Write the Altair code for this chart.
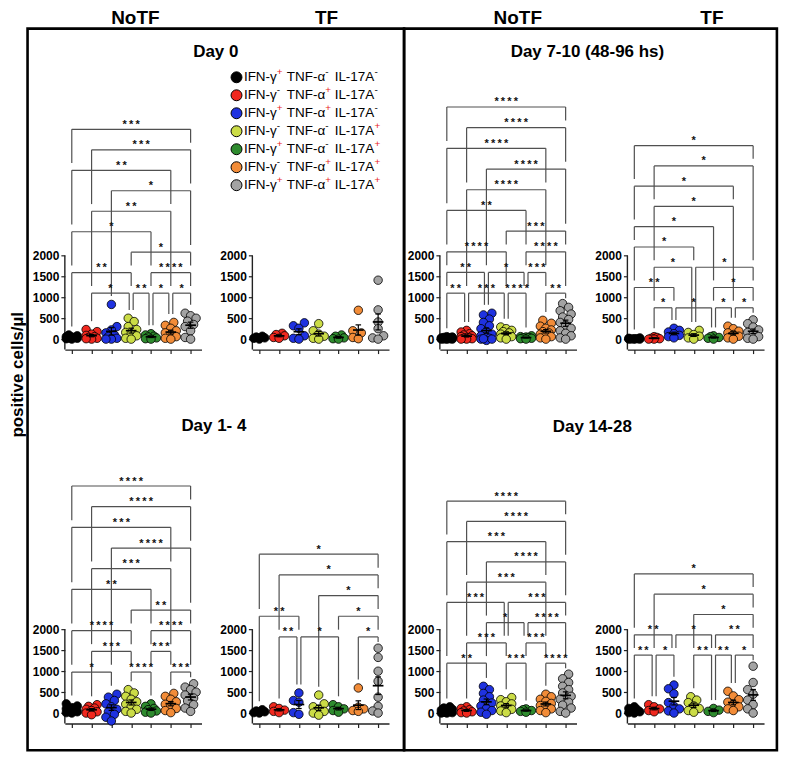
import altair as alt
import pandas as pd

FONT = "Liberation Sans"

CATS = ["IFN-γ+ TNF-α- IL-17A-", "IFN-γ- TNF-α+ IL-17A-", "IFN-γ+ TNF-α+ IL-17A-",
        "IFN-γ- TNF-α- IL-17A+", "IFN-γ+ TNF-α- IL-17A+", "IFN-γ- TNF-α+ IL-17A+",
        "IFN-γ+ TNF-α+ IL-17A+"]
SIGN_IFN = ["+", "-", "+", "-", "+", "-", "+"]
SIGN_TNF = ["-", "+", "+", "-", "-", "+", "+"]
SIGN_IL = ["-", "-", "-", "+", "+", "+", "+"]
COLORS = ["#000000", "#f0281e", "#1f32e0", "#cbdc46", "#2e8b2e", "#f28c38", "#a3a3a3"]

# ---- values (positive cells/µl), one list per population ----
day0_notf = [
    [100, 80, 60, 50, 40, 30, 20, 10, 0],
    [230, 180, 120, 90, 60, 40, 20, 0, 10],
    [830, 300, 220, 150, 100, 60, 20, 0, 0],
    [500, 420, 300, 230, 160, 120, 80, 20, 0],
    [130, 100, 70, 50, 30, 10, 0],
    [400, 330, 260, 200, 150, 100, 60, 20, 0],
    [620, 560, 500, 430, 350, 300, 200, 40, 0],
]
day0_tf = [
    [70, 50, 30, 20, 0],
    [140, 110, 80, 40, 20],
    [390, 320, 260, 80, 20, 0],
    [370, 200, 120, 70, 20, 0],
    [100, 70, 30, 10, 0],
    [690, 200, 150, 40, 10],
    [1410, 700, 410, 250, 80, 30, 0],
]
day7_notf = [
    [60, 50, 40, 30, 30, 20, 20, 10, 10, 0, 0, 0, 5, 15, 25],
    [210, 170, 130, 100, 80, 60, 40, 30, 20, 10, 0, 0],
    [620, 580, 480, 400, 320, 250, 180, 120, 80, 40, 20, 0, -30, 0, 10],
    [290, 250, 210, 180, 150, 120, 90, 60, 30, 0],
    [80, 60, 50, 40, 30, 20, 10, 0],
    [450, 380, 310, 260, 220, 180, 150, 120, 90, 60, 30, 0],
    [850, 760, 680, 600, 530, 470, 400, 330, 260, 200, 140, 80, 30, 0],
]
day7_tf = [
    [30, 20, 10, 5, 0, 0, 0, 10],
    [60, 40, 20, 10, 0, 0],
    [260, 210, 170, 130, 90, 60, 30],
    [210, 160, 110, 70, 30, 0],
    [80, 60, 40, 20, 0],
    [310, 250, 190, 150, 110, 70, 30, 0],
    [460, 370, 290, 220, 160, 110, 60, 20, 0],
]
day1_notf = [
    [220, 170, 130, 100, 70, 50, 30, 10, 0],
    [200, 160, 120, 90, 60, 30, 0, -40],
    [450, 380, 300, 220, 150, 90, 30, -30, -100, -190],
    [560, 480, 400, 330, 270, 210, 150, 90, 40, 0],
    [220, 160, 110, 80, 50, 20, 0],
    [470, 400, 330, 270, 210, 160, 110, 60, 10],
    [700, 620, 560, 500, 430, 360, 290, 200, 120, 40],
]
day1_tf = [
    [80, 50, 30, 10, 0],
    [150, 110, 70, 40, 10],
    [480, 300, 260, 10, -30],
    [430, 220, 150, 90, 40, 0, -50],
    [200, 150, 100, 60, 20],
    [600, 140, 100, 60, 40],
    [1550, 1330, 1000, 760, 380, 160, 50, 0],
]
day14_notf = [
    [150, 120, 90, 70, 50, 30, 20, 10, 0, 0],
    [150, 110, 80, 50, 30, 10, 0],
    [640, 560, 470, 390, 310, 240, 170, 110, 60, 20, -30],
    [370, 320, 270, 220, 170, 130, 90, 50, 10],
    [100, 80, 60, 40, 20],
    [450, 390, 330, 280, 230, 180, 140, 100, 60, 10],
    [930, 820, 730, 640, 560, 480, 400, 330, 260, 190, 120, 40, 0],
]
day14_tf = [
    [150, 110, 80, 50, 30, 10, 0],
    [200, 150, 100, 60, 30],
    [670, 580, 460, 250, 160, 100, 50, 0],
    [390, 310, 250, 170, 110, 60, 20],
    [110, 70, 40, 10],
    [520, 410, 320, 260, 200, 150, 100, 60],
    [1120, 730, 560, 450, 310, 200, 100, 0],
]

# ---- significance brackets: (group a, group b, stack row, label) ----
br_day0_notf = [(6, 7, 0, "*"), (5, 6, 0, "*"), (4, 5, 0, "**"), (2, 4, 0, "*"),
                (1, 4, 1, "**"), (5, 7, 1, "****"), (4, 7, 2, "*"), (1, 5, 3, "*"),
                (2, 6, 4, "**"), (3, 7, 5, "*"), (1, 6, 6, "**"), (2, 7, 7, "***"),
                (1, 7, 8, "***")]
br_day7_notf = [(1, 2, 0, "**"), (2, 4, 0, "***"), (4, 5, 0, "****"), (6, 7, 0, "**"),
                (1, 3, 1, "**"), (3, 5, 1, "*"), (5, 6, 1, "***"),
                (1, 4, 2, "****"), (5, 7, 2, "****"), (4, 7, 3, "***"), (1, 5, 4, "**"),
                (2, 6, 5, "****"), (3, 7, 6, "****"), (1, 6, 7, "****"), (2, 7, 8, "****"),
                (1, 7, 9, "****")]
br_day7_tf = [(2, 3, 0, "*"), (3, 5, 0, "*"), (5, 6, 0, "*"), (6, 7, 0, "*"),
              (1, 3, 1, "**"), (5, 7, 1, "*"), (2, 4, 2, "*"), (4, 7, 2, "*"),
              (1, 4, 3, "*"), (1, 5, 4, "*"), (2, 6, 5, "*"), (1, 6, 6, "*"),
              (2, 7, 7, "*"), (1, 7, 8, "*")]
br_day1_notf = [(1, 3, 0, "*"), (4, 5, 0, "****"), (6, 7, 0, "***"),
                (2, 4, 1, "***"), (5, 6, 1, "***"), (1, 4, 2, "****"), (5, 7, 2, "****"),
                (4, 7, 3, "**"), (1, 5, 4, "**"), (2, 6, 5, "***"), (3, 7, 6, "****"),
                (1, 6, 7, "***"), (2, 7, 8, "****"), (1, 7, 9, "****")]
br_day1_tf = [(2, 3, 0, "**"), (3, 5, 0, "*"), (6, 7, 0, "*"),
              (1, 3, 1, "**"), (5, 7, 1, "*"), (4, 7, 2, "*"), (2, 7, 3, "*"),
              (1, 7, 4, "*")]
br_day14_notf = [(1, 3, 0, "**"), (4, 5, 0, "***"), (6, 7, 0, "****"),
                 (2, 4, 1, "***"), (5, 6, 1, "***"), (3, 5, 2, "*"), (5, 7, 2, "****"),
                 (1, 4, 3, "***"), (4, 7, 3, "***"), (2, 6, 4, "***"), (3, 7, 5, "****"),
                 (1, 6, 6, "***"), (2, 7, 7, "****"), (1, 7, 8, "****")]
br_day14_tf = [(1, 2, 0, "**"), (2, 3, 0, "*"), (4, 5, 0, "**"), (5, 6, 0, "**"),
               (6, 7, 0, "*"), (1, 3, 1, "**"), (3, 5, 1, "*"), (5, 7, 1, "**"),
               (4, 7, 2, "*"), (2, 7, 3, "*"), (1, 7, 4, "*")]

W = 137
XDOM = [0.65, 7.55]
H_TOP, H_BOT = 253.5, 249.6
YTOP_TOP, YTOP_BOT = 5800, 5700

XAX = alt.Axis(values=[1, 2, 3, 4, 5, 6, 7], labels=False, title=None, grid=False, ticks=True,
               tickSize=4, domain=True, domainColor="#222222", tickColor="#222222",
               domainWidth=1.4, tickWidth=1.2)
YAX = alt.Axis(values=[0, 500, 1000, 1500, 2000], format="d", domain=False, grid=False,
               title=None, labelFontWeight="bold", labelFontSize=12, labelColor="black",
               labelFont=FONT, tickColor="#222222", tickSize=4, tickWidth=1.2, labelPadding=2)


def swarm(vals, pxx=19.86, pxy=0.042, d=6.5):
    cands = [0.0, -3.0, 3.0, -5.5, 5.5]
    placed = []
    res = [0.0] * len(vals)
    for i in sorted(range(len(vals)), key=lambda k: vals[k]):
        y = vals[i] * pxy
        best, bestd = 0.0, -1.0
        for c in cands:
            md = min([((c - px) ** 2 + (y - py) ** 2) ** 0.5 for px, py in placed] or [99.0])
            if md >= d:
                best = c
                break
            if md > bestd:
                best, bestd = c, md
        placed.append((best, y))
        res[i] = best / pxx
    return res


def text_mark(t, x, y, size, weight="bold", angle=0, align="center", color="black"):
    return alt.Chart(pd.DataFrame({"t": [t]})).mark_text(
        fontSize=size, fontWeight=weight, angle=angle, align=align,
        baseline="middle", color=color, font=FONT
    ).encode(x=alt.value(x), y=alt.value(y), text="t:N")


def frame(x0, x1, y0, y1):
    return alt.Chart(pd.DataFrame({"k": [0]})).mark_rect(
        fill="transparent", stroke="black", strokeWidth=2.6
    ).encode(x=alt.value(x0), x2=alt.value(x1), y=alt.value(y0), y2=alt.value(y1))


def make_panel(vals, brs, base, step, ytop, h, extras=(), legend_x=None):
    rows = []
    for ci, vs in enumerate(vals):
        for v, o in zip(vs, swarm(vs)):
            rows.append({"idx": ci + 1, "x": ci + 1 + o, "v": v, "cat": CATS[ci]})
    df = pd.DataFrame(rows)
    xsc = alt.Scale(domain=XDOM, nice=False, zero=False)
    ysc = alt.Scale(domain=[-250, ytop], nice=False, zero=False)
    fill = alt.Fill("cat:N", scale=alt.Scale(domain=CATS, range=COLORS), legend=None)

    def X(f):
        return alt.X(f, scale=xsc, axis=XAX)

    def Y(f):
        return alt.Y(f, scale=ysc, axis=YAX)

    layers = list(extras)

    # y axis line from -250 to 2000
    layers.append(alt.Chart(pd.DataFrame({"y0": [-250], "y1": [2000]})).mark_rule(
        color="#222222", strokeWidth=1.4).encode(x=alt.value(0), y=Y("y0:Q"), y2="y1:Q"))

    if brs:
        hs, legs = [], []
        for (a, b, r, lab) in brs:
            L = base + r * step
            ia = 0.1 if any(r2 == r and b2 == a for (a2, b2, r2, _) in brs) else 0.0
            ib = 0.1 if any(r2 == r and a2 == b for (a2, b2, r2, _) in brs) else 0.0
            xa, xb = a + ia, b - ib
            hs.append({"xa": xa, "xb": xb, "lvl": L, "xm": (xa + xb) / 2,
                       "lab": "\u2009".join(lab)})
            for c, xc in ((a, xa), (b, xb)):
                lower = [base + r2 * step for (a2, b2, r2, _) in brs if r2 < r and c in (a2, b2)]
                bot = max(lower) + 0.35 * step if lower else max(vals[c - 1]) + 200
                bot = min(bot, L - 0.25 * step)
                legs.append({"x": xc, "top": L, "bot": bot})
        hdf = pd.DataFrame(hs)
        ldf = pd.DataFrame(legs)
        layers.append(alt.Chart(ldf).mark_rule(color="#505050", strokeWidth=1.2).encode(
            x=X("x:Q"), y=Y("top:Q"), y2="bot:Q"))
        layers.append(alt.Chart(hdf).mark_rule(color="#505050", strokeWidth=1.2).encode(
            x=X("xa:Q"), x2="xb:Q", y=Y("lvl:Q")))
        layers.append(alt.Chart(hdf).mark_text(fontSize=11, fontWeight="bold", color="#111111",
                                               baseline="alphabetic", dy=-1.5, font=FONT).encode(
            x=X("xm:Q"), y=Y("lvl:Q"), text="lab:N"))

    layers.append(alt.Chart(df).mark_circle(size=72, stroke="black", strokeWidth=0.8, opacity=1).encode(
        x=X("x:Q"), y=Y("v:Q"), fill=fill))

    stats = alt.Chart(df).transform_aggregate(
        m="mean(v)", se="stderr(v)", groupby=["idx"]
    ).transform_calculate(
        lo="datum.m - datum.se", hi="datum.m + datum.se",
        a="datum.idx - 0.27", b="datum.idx + 0.27",
        ca="datum.idx - 0.14", cb="datum.idx + 0.14")
    layers.append(stats.mark_rule(color="black", strokeWidth=1.2).encode(
        x=X("idx:Q"), y=Y("lo:Q"), y2="hi:Q"))
    layers.append(stats.mark_rule(color="black", strokeWidth=1.2).encode(
        x=X("ca:Q"), x2="cb:Q", y=Y("hi:Q")))
    layers.append(stats.mark_rule(color="black", strokeWidth=1.2).encode(
        x=X("ca:Q"), x2="cb:Q", y=Y("lo:Q")))
    layers.append(stats.mark_rule(color="black", strokeWidth=1.7).encode(
        x=X("a:Q"), x2="b:Q", y=Y("m:Q")))

    main = alt.layer(*layers)
    if legend_x is None:
        return main.properties(width=W, height=h)

    # custom legend (coloured circles + labels with red "+" superscripts)
    ldf = pd.DataFrame({
        "li": list(range(7)), "cat": CATS,
        "s1": SIGN_IFN, "s2": SIGN_TNF, "s3": SIGN_IL,
        "c1": ["#e8231c" if s == "+" else "black" for s in SIGN_IFN],
        "c2": ["#e8231c" if s == "+" else "black" for s in SIGN_TNF],
        "c3": ["#e8231c" if s == "+" else "black" for s in SIGN_IL],
        "g1": ["IFN-γ"] * 7, "g2": ["TNF-α"] * 7, "g3": ["IL-17A"] * 7,
    })
    ly = alt.Y("li:O", scale=alt.Scale(domain=list(range(7)), range=[-19.5, 88.7], padding=0),
               axis=None)
    lb = alt.Chart(ldf)
    x0 = legend_x
    leg_layers = [
        lb.mark_circle(size=120, stroke="black", strokeWidth=1, opacity=1).encode(
            x=alt.value(x0 - 7.4), y=ly, fill=fill),
        lb.mark_text(fontSize=13.5, align="left", baseline="middle", font=FONT).encode(
            x=alt.value(x0), y=ly, text="g1:N"),
        lb.mark_text(fontSize=10, align="left", baseline="middle", dy=-5, font=FONT).encode(
            x=alt.value(x0 + 33), y=ly, text="s1:N", color=alt.Color("c1:N", scale=None)),
        lb.mark_text(fontSize=13.5, align="left", baseline="middle", font=FONT).encode(
            x=alt.value(x0 + 43), y=ly, text="g2:N"),
        lb.mark_text(fontSize=10, align="left", baseline="middle", dy=-5, font=FONT).encode(
            x=alt.value(x0 + 81.5), y=ly, text="s2:N", color=alt.Color("c2:N", scale=None)),
        lb.mark_text(fontSize=13.5, align="left", baseline="middle", font=FONT).encode(
            x=alt.value(x0 + 91), y=ly, text="g3:N"),
        lb.mark_text(fontSize=10, align="left", baseline="middle", dy=-5, font=FONT).encode(
            x=alt.value(x0 + 131), y=ly, text="s3:N", color=alt.Color("c3:N", scale=None)),
    ]
    return alt.layer(main, alt.layer(*leg_layers)).resolve_scale(y="independent").properties(
        width=W, height=h)


p_d0n = make_panel(day0_notf, br_day0_notf, 1100, 490, YTOP_TOP, H_TOP, extras=[
    frame(-37.4, 340.1, -68.3, 655.2),
    text_mark("NoTF", 70.7, -79.0, 19),
    text_mark("Day 0", 151.3, -44.9, 17),
    text_mark("positive cells/µl", -47.2, 278.8, 17, angle=270),
])
p_d0t = make_panel(day0_tf, [], 0, 0, YTOP_TOP, H_TOP, extras=[
    text_mark("TF", 74.4, -79.0, 19),
], legend_x=-8.5)
p_d7n = make_panel(day7_notf, br_day7_notf, 1100, 495, YTOP_TOP, H_TOP, extras=[
    frame(-35.9, 337.9, -68.3, 655.2),
    text_mark("NoTF", 78.1, -79.0, 19),
    text_mark("Day 7-10 (48-96 hs)", 147.9, -44.9, 17),
])
p_d7t = make_panel(day7_tf, br_day7_tf, 750, 485, YTOP_TOP, H_TOP, extras=[
    text_mark("TF", 84.7, -79.0, 19),
])
p_d1n = make_panel(day1_notf, br_day1_notf, 980, 494, YTOP_BOT, H_BOT, extras=[
    text_mark("Day 1- 4", 149.4, -48.8, 17),
])
p_d1t = make_panel(day1_tf, br_day1_tf, 1820, 494, YTOP_BOT, H_BOT)
p_d14n = make_panel(day14_notf, br_day14_notf, 1192, 484, YTOP_BOT, H_BOT, extras=[
    text_mark("Day 14-28", 152.8, -47.8, 17),
])
p_d14t = make_panel(day14_tf, br_day14_tf, 1385, 485, YTOP_BOT, H_BOT)

chart = alt.concat(
    p_d0n, p_d0t, p_d7n, p_d7t,
    p_d1n, p_d1t, p_d14n, p_d14t,
    columns=4, spacing={"row": 124.8, "column": 51}, bounds="flush"
).properties(
    padding=0
).configure_view(strokeWidth=0).configure_text(font=FONT).configure_axis(labelFont=FONT)

chart.save("out.html", embed_options={"renderer": "svg", "actions": False})
